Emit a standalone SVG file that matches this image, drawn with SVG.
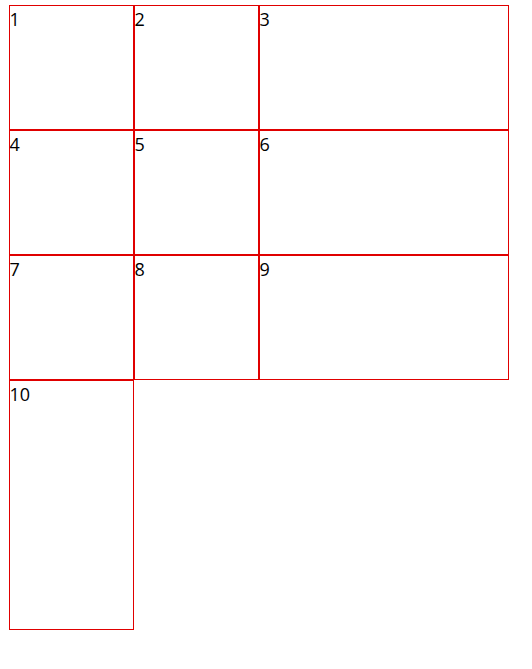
<svg xmlns="http://www.w3.org/2000/svg" width="532" height="669" viewBox="0 0 532 669">
<style>
.c{fill:#fff;stroke:#e00000;stroke-width:1}
.t{font-family:"Open Sans","Noto Sans","DejaVu Sans",sans-serif;font-size:18px;fill:#000}
</style>
<rect width="532" height="669" fill="#fff"/>
<g id="cell1"><rect class="c" x="9.5" y="5.5" width="124" height="124"/><text class="t" x="9.5" y="26">1</text></g>
<g id="cell2"><rect class="c" x="134.5" y="5.5" width="124" height="124"/><text class="t" x="134.5" y="26">2</text></g>
<g id="cell3"><rect class="c" x="259.5" y="5.5" width="249" height="124"/><text class="t" x="259.5" y="26">3</text></g>
<g id="cell4"><rect class="c" x="9.5" y="130.5" width="124" height="124"/><text class="t" x="9.5" y="151">4</text></g>
<g id="cell5"><rect class="c" x="134.5" y="130.5" width="124" height="124"/><text class="t" x="134.5" y="151">5</text></g>
<g id="cell6"><rect class="c" x="259.5" y="130.5" width="249" height="124"/><text class="t" x="259.5" y="151">6</text></g>
<g id="cell7"><rect class="c" x="9.5" y="255.5" width="124" height="124"/><text class="t" x="9.5" y="276">7</text></g>
<g id="cell8"><rect class="c" x="134.5" y="255.5" width="124" height="124"/><text class="t" x="134.5" y="276">8</text></g>
<g id="cell9"><rect class="c" x="259.5" y="255.5" width="249" height="124"/><text class="t" x="259.5" y="276">9</text></g>
<g id="cell10"><rect class="c" x="9.5" y="380.5" width="124" height="249"/><text class="t" x="9.5" y="401">10</text></g>
</svg>
